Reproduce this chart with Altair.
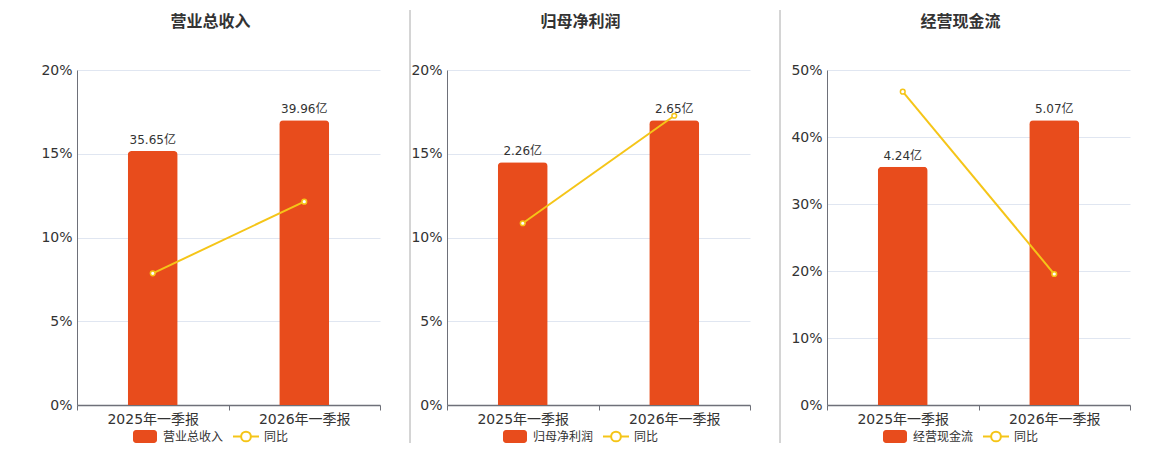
import altair as alt
import pandas as pd

categories = ["2025年一季报", "2026年一季报"]
titles = ["营业总收入", "归母净利润", "经营现金流"]
bar_values = [[35.65, 39.96], [2.26, 2.65], [4.24, 5.07]]
yoy_values = [[7.86, 12.14], [10.85, 17.27], [46.76, 19.55]]
y_max = [20, 20, 50]
y_ticks = [[0, 5, 10, 15, 20], [0, 5, 10, 15, 20], [0, 10, 20, 30, 40, 50]]
legend_line_label = "同比"

RED = "#E84C1C"
YEL = "#F5C518"
TXT = "#333333"
AX = "#6E7079"
GRID = "#E0E6F1"
FONT = "DejaVu Sans, Noto Sans CJK SC"
W, H = 303, 335
sep_x = [-37, -37, -47]
sep_op = [0, 1, 1]


def panel(i):
    df = pd.DataFrame({
        "cat": categories,
        "val": bar_values[i],
        "yoy": yoy_values[i],
        "label": [f"{v:.2f}亿" for v in bar_values[i]],
    })
    xenc = alt.X("cat:N", sort=categories,
                 scale=alt.Scale(paddingInner=0, paddingOuter=0),
                 axis=alt.Axis(title=None, labelAngle=0, grid=False, tickBand="extent",
                               domainColor=AX, tickColor=AX, tickSize=5, domainWidth=1.5,
                               labelFontSize=14, labelColor=TXT, labelPadding=2, labelFont=FONT))
    base = alt.Chart(df).encode(x=xenc)
    bscale = alt.Scale(domain=[0, max(bar_values[i]) / 0.85], nice=False)
    lscale = alt.Scale(domain=[0, y_max[i]], nice=False)
    bars = base.mark_bar(width=50, color=RED, cornerRadiusTopLeft=4,
                         cornerRadiusTopRight=4).encode(
        y=alt.Y("val:Q", scale=bscale, axis=None))
    text = base.mark_text(dy=-11, fontSize=12, color=TXT, font=FONT).encode(
        y=alt.Y("val:Q", scale=bscale, axis=None), text="label:N")
    line = base.mark_line(color=YEL, strokeWidth=2).encode(
        y=alt.Y("yoy:Q", scale=lscale,
                axis=alt.Axis(orient="left", title=None, values=y_ticks[i],
                              labelExpr="datum.value + '%'", ticks=False, tickSize=0,
                              labelPadding=5, labelFontSize=14, labelColor=TXT, labelFont=FONT,
                              domainColor=AX, gridColor=GRID, grid=True)))
    pts = base.mark_point(shape="circle", filled=True, fill="white", stroke=YEL,
                          strokeWidth=1.5, size=22, opacity=1).encode(
        y=alt.Y("yoy:Q", scale=lscale, axis=None))

    one = alt.Chart(pd.DataFrame({"k": [0]}))
    sep = one.mark_rule(color="#AAAAAA", strokeWidth=1, opacity=sep_op[i]).encode(
        x=alt.value(sep_x[i]), y=alt.value(-60), y2=alt.value(373))
    ttl = one.mark_text(align="center", baseline="middle", fontSize=16, fontWeight="bold",
                        color=TXT, font=FONT, text=titles[i]).encode(
        x=alt.value(W / 2 - 18), y=alt.value(-48))
    sw = one.mark_rect(color=RED, cornerRadius=3).encode(
        x=alt.value(56), x2=alt.value(80), y=alt.value(360), y2=alt.value(373))
    sw_t = one.mark_text(align="left", baseline="middle", fontSize=12, color=TXT, font=FONT,
                         text=titles[i]).encode(x=alt.value(86), y=alt.value(367))
    lg_l = one.mark_rule(color=YEL, strokeWidth=2).encode(
        x=alt.value(156), x2=alt.value(182), y=alt.value(366.5))
    lg_p = one.mark_point(shape="circle", filled=True, fill="white", stroke=YEL,
                          strokeWidth=2, size=95, opacity=1).encode(
        x=alt.value(169), y=alt.value(366.5))
    lg_t = one.mark_text(align="left", baseline="middle", fontSize=12, color=TXT, font=FONT,
                         text=legend_line_label).encode(x=alt.value(187), y=alt.value(367))

    return alt.layer(bars, text, line, pts, sep, ttl, sw, sw_t, lg_l, lg_p, lg_t).resolve_scale(
        y="independent").properties(width=W, height=H)


chart = alt.hconcat(*[panel(i) for i in range(3)], spacing=28).properties(
    padding={"left": 32, "top": 1, "right": 5, "bottom": 5}
).configure_view(stroke=None)

chart.save("out.html", embed_options={"renderer": "svg", "actions": False})
